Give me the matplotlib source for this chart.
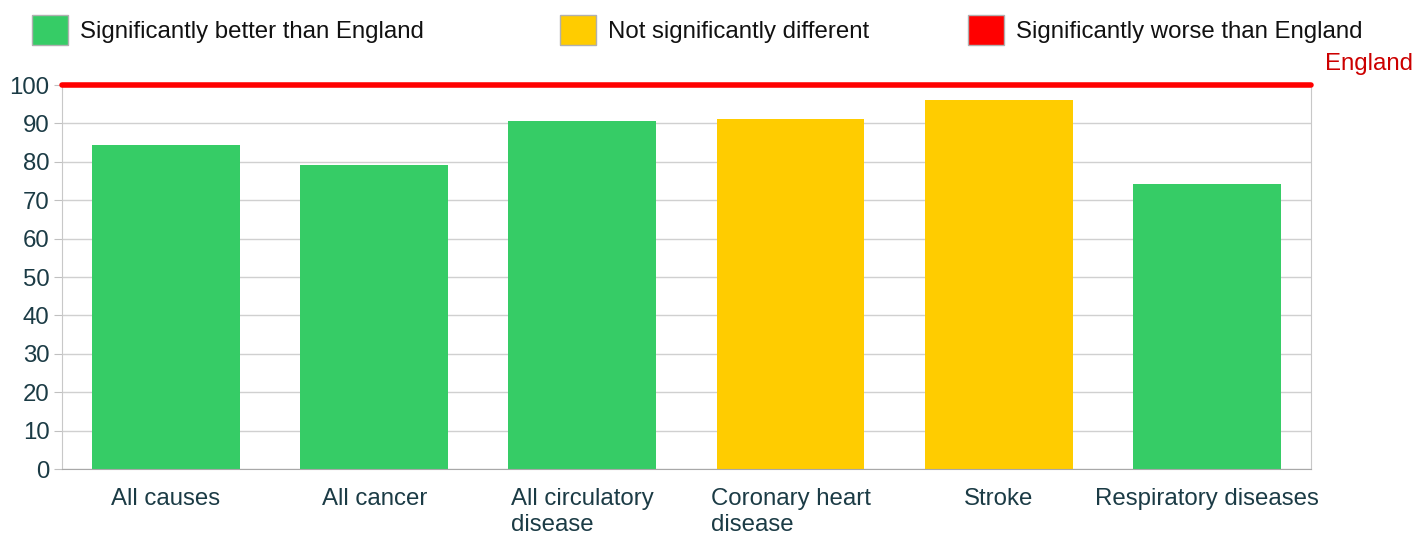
import matplotlib
matplotlib.use('Agg')
import matplotlib.pyplot as plt
from matplotlib.patches import Patch

plt.rcParams['font.family'] = ['Liberation Sans', 'DejaVu Sans']

# Data
categories = ['All causes', 'All cancer', 'All circulatory\ndisease',
              'Coronary heart\ndisease', 'Stroke', 'Respiratory diseases']
values = [84.4, 79.2, 90.6, 91.1, 96.1, 74.2]
status = ['better', 'better', 'better', 'similar', 'similar', 'better']
england_value = 100

colors = {'better': '#36cc66', 'similar': '#ffcc00', 'worse': '#ff0000'}
legend_labels = {'better': 'Significantly better than England',
                 'similar': 'Not significantly different',
                 'worse': 'Significantly worse than England'}
text_color = '#1b3b45'
fs = 17.3

fig = plt.figure(figsize=(14.28, 5.34), dpi=100)
ax = fig.add_axes([0.0434, 0.1217, 0.8746, 0.7191])

x = range(len(categories))
ax.bar(x, values, width=0.71, color=[colors[s] for s in status], zorder=2)

# England reference line
ax.axhline(england_value, color='#ff0000', lw=4, zorder=3, clip_on=False,
           solid_capstyle='round')
ax.text(1.011, 1.025, 'England', transform=ax.transAxes, color='#cc0000',
        fontsize=fs, ha='left', va='bottom')

ax.set_xlim(-0.5, len(categories) - 0.5)
ax.set_ylim(0, 100)
ax.set_yticks(range(0, 101, 10))
ax.yaxis.grid(True, color='#d0d0d0', lw=1, zorder=0)
ax.set_axisbelow(True)

ax.set_xticks(list(x))
ax.set_xticklabels(categories, multialignment='left', fontsize=fs,
                   color=text_color, va='top', linespacing=1.2)
ax.tick_params(axis='x', length=0, pad=14)
ax.tick_params(axis='y', length=6, color='#c0c0c0', labelsize=fs,
               labelcolor=text_color, pad=3)

for side in ['left', 'right', 'bottom']:
    ax.spines[side].set_color('#c8c8c8')
ax.spines['bottom'].set_color('#a8a8a8')
ax.spines['top'].set_visible(False)

# Legend: three separate entries spread across the top
legend_x = [0.0224, 0.3922, 0.6779]
for key, lx in zip(['better', 'similar', 'worse'], legend_x):
    h = Patch(facecolor=colors[key], edgecolor='#b0b0b0', lw=1)
    fig.legend([h], [legend_labels[key]], loc='center left',
               bbox_to_anchor=(lx, 0.944), frameon=False, fontsize=fs,
               handlelength=1.5, handleheight=1.5, handletextpad=0.5,
               borderaxespad=0, borderpad=0, labelcolor='#111111')

fig.savefig('out.png', dpi=100)
